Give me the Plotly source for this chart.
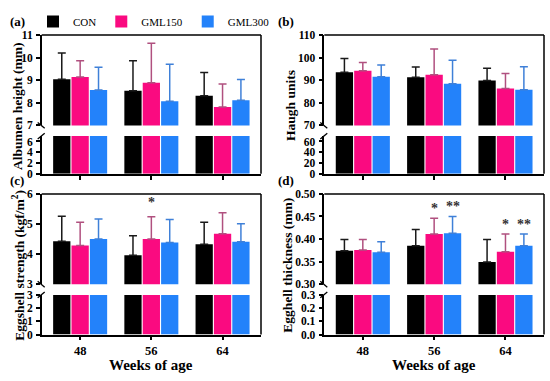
import plotly.graph_objects as go

# ---------------- data ----------------
weeks = ["48", "56", "64"]
groups = ["CON", "GML150", "GML300"]

albumen_mean = {"CON": [9.04, 8.54, 8.31], "GML150": [9.14, 8.89, 7.81], "GML300": [8.57, 8.07, 8.11]}
albumen_err = {"CON": [1.17, 1.32, 1.03], "GML150": [0.72, 1.75, 1.02], "GML300": [1.00, 1.64, 0.92]}

haugh_mean = {"CON": [93.5, 91.3, 89.9], "GML150": [94.2, 92.4, 86.3], "GML300": [91.6, 88.4, 85.8]}
haugh_err = {"CON": [6.1, 4.6, 5.4], "GML150": [3.6, 11.4, 6.7], "GML300": [5.2, 10.4, 10.2]}

strength_mean = {"CON": [4.43, 3.96, 4.33], "GML150": [4.29, 4.50, 4.68], "GML300": [4.50, 4.39, 4.41]}
strength_err = {"CON": [0.83, 0.65, 0.73], "GML150": [0.77, 0.74, 0.69], "GML300": [0.67, 0.76, 0.60]}

thick_mean = {"CON": [0.374, 0.385, 0.349], "GML150": [0.376, 0.411, 0.372], "GML300": [0.371, 0.413, 0.385]}
thick_err = {"CON": [0.025, 0.036, 0.050], "GML150": [0.023, 0.035, 0.039], "GML300": [0.023, 0.037, 0.026]}

# significance marks: (group, week index, text)
stars_c = [("GML150", 1, "*")]
stars_d = [("GML150", 1, "*"), ("GML300", 1, "**"), ("GML150", 2, "*"), ("GML300", 2, "**")]

# ---------------- style ----------------
W, H = 550, 381
FONT = "Liberation Serif"
bar_colors = {"CON": "#000000", "GML150": "#FA0A80", "GML300": "#2382FA"}
err_colors = {"CON": "#1a1a1a", "GML150": "#B0507F", "GML300": "#3F80D8"}

def fx(x):
    return x / W

def fy(y):
    return 1 - y / H

panels = [
    dict(label="(a)", lx=17, x0=41.7, x1=261.0, up=(30.0, 123.3), lo=(134.3, 173.3),
         mean=albumen_mean, err=albumen_err, up_range=[7, 11], up_ticks=[7, 8, 9, 10, 11],
         lo_range=[0, 7], lo_ticks=[0, 2, 4, 6], fmt_up="d", fmt_lo="d",
         title="Albumen height (mm)", tx=18, stars=[], star_shift=5, xlabels=False),
    dict(label="(b)", lx=286, x0=324.3, x1=544.0, up=(30.0, 123.3), lo=(134.3, 173.3),
         mean=haugh_mean, err=haugh_err, up_range=[70, 110], up_ticks=[70, 80, 90, 100, 110],
         lo_range=[0, 70], lo_ticks=[0, 20, 40, 60], fmt_up="d", fmt_lo="d",
         title="Haugh units", tx=291, stars=[], star_shift=5, xlabels=False),
    dict(label="(c)", lx=17, x0=41.7, x1=261.0, up=(194.0, 287.3), lo=(298.3, 339.3),
         mean=strength_mean, err=strength_err, up_range=[3, 6], up_ticks=[3, 4, 5, 6],
         lo_range=[0, 3], lo_ticks=[0, 1, 2, 3], fmt_up="d", fmt_lo="d",
         title="Eggshell strength (kgf/m<sup>2</sup>)", tx=19, stars=stars_c, star_shift=5, xlabels=True),
    dict(label="(d)", lx=286, x0=324.3, x1=544.0, up=(194.0, 287.3), lo=(298.3, 339.3),
         mean=thick_mean, err=thick_err, up_range=[0.30, 0.50], up_ticks=[0.30, 0.35, 0.40, 0.45, 0.50],
         lo_range=[0, 0.3], lo_ticks=[0.0, 0.1, 0.2, 0.3], fmt_up=".2f", fmt_lo=".1f",
         title="Egghell thickness (mm)", tx=288, stars=stars_d, star_shift=0, xlabels=True),
]

fig = go.Figure()
layout = dict(
    width=W, height=H, margin=dict(l=0, r=0, t=0, b=0),
    paper_bgcolor="white", plot_bgcolor="white",
    barmode="group", bargap=0.226, bargroupgap=0.06,
    font=dict(family=FONT, color="black"),
    showlegend=True,
    legend=dict(orientation="h", x=fx(33), y=fy(16), xanchor="left", yanchor="middle",
                font=dict(family=FONT, size=11, color="black"), itemwidth=30,
                traceorder="normal", bgcolor="rgba(0,0,0,0)", tracegroupgap=0),
)
shapes = []
annotations = []
tickfont = dict(family=FONT, size=11.5, color="black", weight="bold")
LW = 1.5

for i, p in enumerate(panels):
    xi = i + 1
    yu = 2 * i + 1
    yl = 2 * i + 2
    xname = "x" if xi == 1 else f"x{xi}"
    yuname = "y" if yu == 1 else f"y{yu}"
    ylname = f"y{yl}"
    xkey = "xaxis" if xi == 1 else f"xaxis{xi}"
    yukey = "yaxis" if yu == 1 else f"yaxis{yu}"
    ylkey = f"yaxis{yl}"

    layout[xkey] = dict(domain=[fx(p["x0"]), fx(p["x1"])], anchor=ylname, type="category",
                        categoryorder="array", categoryarray=weeks, range=[-0.54, 2.54],
                        showline=True, linewidth=LW, linecolor="black", ticks="outside",
                        ticklen=4, tickwidth=LW, tickcolor="black", showgrid=False,
                        showticklabels=p["xlabels"], ticklabelstandoff=0,
                        tickfont=dict(family=FONT, size=12.5, color="black", weight="bold"))
    common_y = dict(anchor=xname, showline=True, linewidth=LW, linecolor="black", ticks="outside",
                    ticklen=4, tickwidth=LW, tickcolor="black", showgrid=False, zeroline=False,
                    tickfont=tickfont, ticklabelstandoff=1)
    layout[yukey] = dict(domain=[fy(p["up"][1]), fy(p["up"][0])], range=p["up_range"],
                         tickvals=p["up_ticks"], tickformat=p["fmt_up"], **common_y)
    layout[ylkey] = dict(domain=[fy(p["lo"][1]), fy(p["lo"][0])], range=p["lo_range"],
                         tickvals=p["lo_ticks"], tickformat=p["fmt_lo"], **common_y)

    for g in groups:
        fig.add_trace(go.Bar(
            x=weeks, y=p["mean"][g], name=g, xaxis=xname, yaxis=yuname,
            marker=dict(color=bar_colors[g], line=dict(width=0)),
            error_y=dict(type="data", symmetric=False, array=p["err"][g],
                         arrayminus=[0] * len(weeks), color=err_colors[g], thickness=1.5, width=4),
            legendgroup=g, showlegend=(i == 0), hoverinfo="skip"))
        fig.add_trace(go.Bar(
            x=weeks, y=p["mean"][g], name=g, xaxis=xname, yaxis=ylname,
            marker=dict(color=bar_colors[g], line=dict(width=0)),
            legendgroup=g, showlegend=False, hoverinfo="skip"))

    # frame: top and right borders
    shapes.append(dict(type="line", xref="paper", yref="paper",
                       x0=fx(p["x0"]), x1=fx(p["x1"]), y0=fy(p["up"][0]), y1=fy(p["up"][0]),
                       line=dict(color="black", width=LW)))
    shapes.append(dict(type="line", xref="paper", yref="paper",
                       x0=fx(p["x1"]), x1=fx(p["x1"]), y0=fy(p["up"][0]), y1=fy(p["lo"][1]),
                       line=dict(color="black", width=LW)))
    # axis break marks
    ax = p["x0"]
    shapes.append(dict(type="line", xref="paper", yref="paper",
                       x0=fx(ax - 4), x1=fx(ax + 3), y0=fy(p["up"][1] - 3), y1=fy(p["up"][1] + 3),
                       line=dict(color="black", width=1.3)))
    shapes.append(dict(type="line", xref="paper", yref="paper",
                       x0=fx(ax - 4), x1=fx(ax + 3), y0=fy(p["lo"][0] + 3), y1=fy(p["lo"][0] - 3),
                       line=dict(color="black", width=1.3)))

    # panel label
    annotations.append(dict(text=p["label"], xref="paper", yref="paper", x=fx(p["lx"]), y=fy(p["up"][0] - 14),
                            showarrow=False, xanchor="center", yanchor="middle",
                            font=dict(family=FONT, size=13, color="black", weight="bold")))
    # y title
    annotations.append(dict(text=p["title"], xref="paper", yref="paper", x=fx(p["tx"]),
                            y=(fy(p["up"][0]) + fy(p["lo"][1])) / 2 - 0.004, textangle=-90,
                            showarrow=False, xanchor="center", yanchor="middle",
                            font=dict(family=FONT, size=13.5, color="black", weight="bold")))
    # x title
    if p["xlabels"]:
        annotations.append(dict(text="Weeks of age", xref="paper", yref="paper",
                                x=(fx(p["x0"]) + fx(p["x1"])) / 2, y=fy(371),
                                showarrow=False, xanchor="center", yanchor="middle",
                                font=dict(family=FONT, size=15, color="black", weight="bold")))
    # stars
    gi = {g: k for k, g in enumerate(groups)}
    for g, wi, txt in p["stars"]:
        offset = (gi[g] - 1) * 0.258
        annotations.append(dict(text=txt, xref=xname, yref=yuname,
                                x=wi + offset, y=p["mean"][g][wi] + p["err"][g][wi],
                                showarrow=False, xanchor="center", yanchor="bottom", yshift=p["star_shift"],
                                font=dict(family=FONT, size=14, color="#333333", weight="bold")))

layout["shapes"] = shapes
layout["annotations"] = annotations
fig.update_layout(**layout)
fig.write_html("out.html", config={"displayModeBar": False},
               post_script="document.body.style.margin='0';document.body.style.overflow='hidden';")
